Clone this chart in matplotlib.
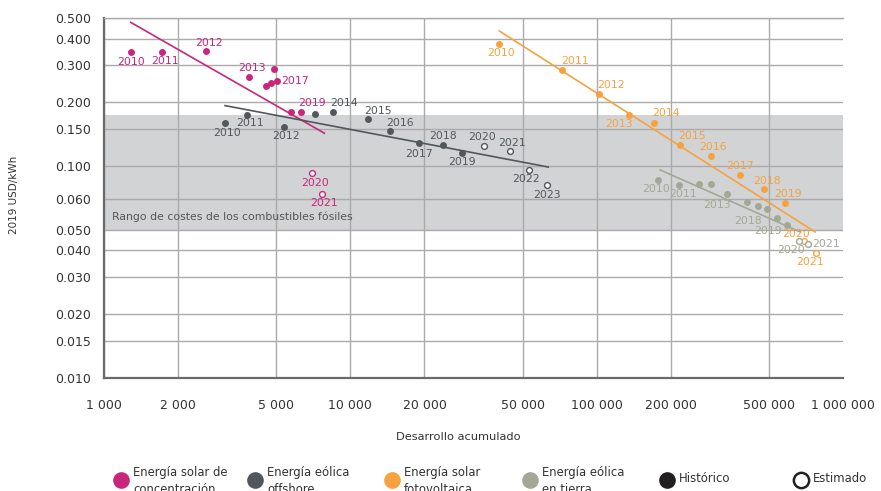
import matplotlib
matplotlib.use("Agg")
import matplotlib.pyplot as plt
from matplotlib.lines import Line2D

# cumulative deployment (MW), LCOE (2019 USD/kWh), year labels, estimated flag
csp_x = [1283, 1720, 2594, 3879, 4534, 4779, 4887, 5039, 5728, 6324, 6966, 7683]
csp_y = [0.344, 0.347, 0.350, 0.264, 0.240, 0.248, 0.287, 0.251, 0.181, 0.180, 0.093, 0.074]
csp_lbl = ["2010", "2011", "2012", "2013", "", "", "", "2017", "", "2019", "2020", "2021"]
csp_est = [False] * 10 + [True] * 2
csp_trend_x = [1283, 7845]
csp_trend_y = [0.477, 0.143]

off_x = [3100, 3807, 5380, 7210, 8505, 11800, 14450, 18950, 23790, 28500,
         34990, 44350, 53300, 62660]
off_y = [0.160, 0.174, 0.153, 0.176, 0.180, 0.166, 0.146, 0.129, 0.126, 0.115,
         0.124, 0.118, 0.096, 0.081]
off_lbl = ["2010", "2011", "2012", "", "2014", "2015", "2016", "2017", "2018", "2019",
           "2020", "2021", "2022", "2023"]
off_est = [False] * 10 + [True] * 4
off_trend_x = [3100, 63620]
off_trend_y = [0.193, 0.099]

pv_x = [40270, 72170, 102000, 135400, 171000, 218000, 291400, 382200, 479700, 583400,
        695000, 774700]
pv_y = [0.377, 0.283, 0.218, 0.174, 0.160, 0.126, 0.112, 0.091, 0.078, 0.067,
        0.0445, 0.0388]
pv_lbl = ["2010", "2011", "2012", "2013", "2014", "2015", "2016", "2017", "2018", "2019",
          "2020", "2021"]
pv_est = [False] * 10 + [True] * 2
pv_trend_x = [40270, 770300]
pv_trend_y = [0.434, 0.0489]

on_x = [176900, 216800, 261300, 291400, 339500, 407000, 453700, 492000, 541600, 594300,
        660800, 723300]
on_y = [0.086, 0.081, 0.082, 0.082, 0.074, 0.068, 0.065, 0.063, 0.057, 0.053,
        0.0445, 0.0428]
on_lbl = ["2010", "2011", "", "2013", "", "", "", "", "2018", "2019", "2020", "2021"]
on_est = [False] * 10 + [True] * 2
on_trend_x = [180800, 669600]
on_trend_y = [0.096, 0.0489]

fossil_range = (0.05, 0.175)

x_ticks = [1000, 2000, 5000, 10000, 20000, 50000, 100000, 200000, 500000, 1000000]
x_ticklabels = ["1 000", "2 000", "5 000", "10 000", "20 000", "50 000",
                "100 000", "200 000", "500 000", "1 000 000"]
y_ticks = [0.01, 0.015, 0.02, 0.03, 0.04, 0.05, 0.07, 0.1, 0.15, 0.2, 0.3, 0.4, 0.5]
y_ticklabels = ["0.010", "0.015", "0.020", "0.030", "0.040", "0.050", "0.060",
                "0.100", "0.150", "0.200", "0.300", "0.400", "0.500"]

# label offsets in pixels (dx, dy, ha)
csp_off = [(0, -10, "c"), (3, -9, "c"), (3, 8, "c"), (3, 9, "c"), None, None, None,
           (4, 0, "l"), None, (11, 9, "c"), (3, -10, "c"), (2, -9, "c")]
off_off = [(2, -10, "c"), (3, -8, "c"), (2, -9, "c"), None, (11, 9, "c"), (10, 8, "c"),
           (10, 8, "c"), (0, -11, "c"), (0, 9, "c"), (0, -9, "c"), (-2, 9, "c"),
           (2, 8, "c"), (-3, -9, "c"), (0, -10, "c")]
pv_off = [(2, -9, "c"), (13, 9, "c"), (12, 9, "c"), (-10, -9, "c"), (12, 10, "c"),
          (12, 9, "c"), (2, 9, "c"), (0, 9, "c"), (3, 8, "c"), (3, 9, "c"),
          (-8, 7, "c"), (-6, -9, "c")]
on_off = [(-2, -9, "c"), (4, -9, "c"), None, (6, -21, "c"), None, None, None, None,
          (-29, -3, "c"), (-19, -6, "c"), (-8, -9, "c"), (4, 0, "l")]

C_CSP = "#c8267c"
C_OFF = "#52575c"
C_PV = "#f7a23e"
C_ON = "#a3a895"

fig = plt.figure(figsize=(8.81, 4.91), dpi=100)
ax = fig.add_axes([104 / 881, 1 - 378 / 491, 739 / 881, 360 / 491])
ax.set_xscale("log")
ax.set_yscale("log")
ax.set_xlim(1000, 1000000)
ax.set_ylim(0.01, 0.5)

ax.axhspan(*fossil_range, color="#d2d3d5", zorder=0.2, lw=0)
ax.text(1080, 0.0575, "Rango de costes de los combustibles fósiles",
        fontsize=7.8, color="#555555", va="center", ha="left", zorder=3)

ax.set_xticks(x_ticks)
ax.set_xticklabels(x_ticklabels)
ax.set_yticks(y_ticks)
ax.set_yticklabels(y_ticklabels)
ax.minorticks_off()
ax.tick_params(length=0, labelsize=9, colors="#333333")
ax.tick_params(axis="x", pad=15)
ax.tick_params(axis="y", pad=9)
ax.grid(True, color="#aaaaaa", lw=1.0)
ax.set_axisbelow(True)
# no vertical line on the right edge
ax.get_xgridlines()[-1].set_visible(False)
for side in ("left", "bottom"):
    ax.spines[side].set_color("#6a6a6a")
    ax.spines[side].set_linewidth(1.6)
ax.spines["top"].set_color("#aaaaaa")
ax.spines["top"].set_linewidth(1.0)
ax.spines["right"].set_visible(False)

series = [
    (csp_x, csp_y, csp_lbl, csp_est, csp_off, csp_trend_x, csp_trend_y, C_CSP),
    (off_x, off_y, off_lbl, off_est, off_off, off_trend_x, off_trend_y, C_OFF),
    (pv_x, pv_y, pv_lbl, pv_est, pv_off, pv_trend_x, pv_trend_y, C_PV),
    (on_x, on_y, on_lbl, on_est, on_off, on_trend_x, on_trend_y, C_ON),
]

for xs, ys, lbls, est, offs, tx, ty, col in series:
    ax.plot(tx, ty, color=col, lw=1.2, zorder=3)
    for x, y, lab, e, o in zip(xs, ys, lbls, est, offs):
        if e:
            ax.plot(x, y, "o", ms=4.2, mfc="white", mec=col, mew=1.0, zorder=4)
        else:
            ax.plot(x, y, "o", ms=5, color=col, mec="none", zorder=4)
        if lab and o:
            dx, dy, ha = o
            ax.annotate(lab, (x, y), xytext=(dx, dy), textcoords="offset pixels",
                        ha="left" if ha == "l" else "center", va="center",
                        fontsize=7.8, color=col, zorder=5)

fig.text(14 / 881, 1 - 195 / 491, "2019 USD/kWh", rotation=90, fontsize=7.5,
         color="#333333", ha="center", va="center")
fig.text(458 / 881, 1 - 437 / 491, "Desarrollo acumulado", fontsize=8.2,
         color="#333333", ha="center", va="center")

# legend row along the bottom edge
legend_items = [
    (121, C_CSP, True, "Energía solar de\nconcentración"),
    (255, C_OFF, True, "Energía eólica\noffshore"),
    (392, C_PV, True, "Energía solar\nfotovoltaica"),
    (530, C_ON, True, "Energía eólica\nen tierra"),
    (667, "#231f20", True, "Histórico"),
    (801, "#231f20", False, "Estimado"),
]
for lx, col, filled, txt in legend_items:
    ly = 1 - 480 / 491
    if filled:
        m = Line2D([lx / 881], [ly], marker="o", ms=12, color=col, mec="none",
                   transform=fig.transFigure)
    else:
        m = Line2D([lx / 881], [ly], marker="o", ms=11, mfc="white", mec=col, mew=1.8,
                   transform=fig.transFigure)
    fig.add_artist(m)
    if "\n" in txt:
        fig.text((lx + 12) / 881, 1 - 481 / 491, txt, fontsize=8.4, color="#333333",
                 ha="left", va="center", linespacing=1.35)
    else:
        fig.text((lx + 12) / 881, 1 - 479 / 491, txt, fontsize=8.4, color="#333333",
                 ha="left", va="center")

fig.savefig("out.png", dpi=100)
